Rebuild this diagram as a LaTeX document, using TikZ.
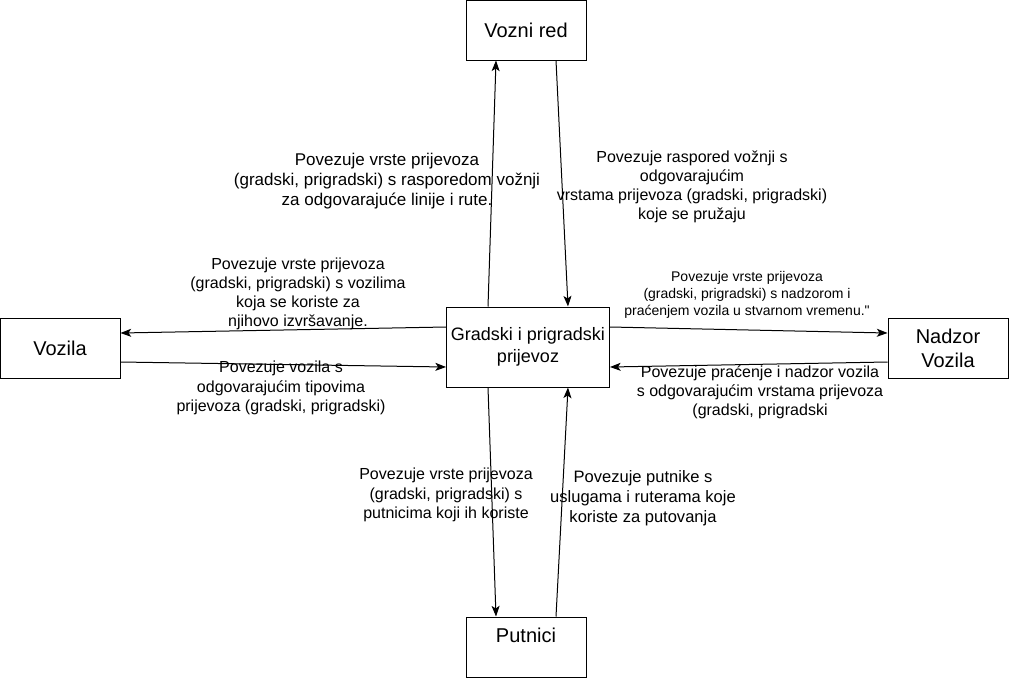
\documentclass[tikz,border=0pt]{standalone}
\usepackage{fontspec}
\setmainfont{Liberation Sans}
\usetikzlibrary{arrows.meta}

\begin{document}
\begin{tikzpicture}[x=0.75pt,y=-0.75pt,line width=0.75pt,>={Stealth[length=8pt,width=6pt,inset=2pt]}]
      \useasboundingbox (0,0) rectangle (1009,678);
      \begin{scope}[every node/.style={rectangle,draw,minimum width=90pt,minimum height=45pt,align=center,font=\fontsize{15}{18}\selectfont}]
        \node (red) at (526,30) {Vozni red};
        \node[minimum width=120pt,minimum height=60pt,font=\fontsize{13.5}{16}\selectfont] (prijevoz) at (528,347) {Gradski i prigradski\\prijevoz};
        \node (vozila) at (60,348) {Vozila};
        \node (nadzor) at (948,348) {Nadzor\\Vozila};
        \node (putnici) at (526,647) {\raisebox{18pt}{Putnici}};
      \end{scope}
      \begin{scope}[every node/.style={align=center,font=\fontsize{12}{14.4}\selectfont}]
        \node[font=\fontsize{12.75}{15}\selectfont] (opis1) at (387,181) {Povezuje vrste prijevoza\\(gradski, prigradski) s rasporedom vožnji\\za odgovarajuće linije i rute.};
        \node (opis2) at (692,187) {Povezuje raspored vožnji s\\odgovarajućim\\vrstama prijevoza (gradski, prigradski)\\koje se pružaju};
        \node (opis3) at (298,294) {Povezuje vrste prijevoza\\(gradski, prigradski) s vozilima\\koja se koriste za\\njihovo izvršavanje.};
        \node (opis4) at (281,388) {Povezuje vozila s\\odgovarajućim tipovima\\prijevoza (gradski, prigradski)};
        \node[font=\fontsize{10.5}{12.8}\selectfont] (opis5) at (747,295) {Povezuje vrste prijevoza\\(gradski, prigradski) s nadzorom i\\praćenjem vozila u stvarnom vremenu.\textquotedbl};
        \node (opis6) at (760,392) {Povezuje praćenje i nadzor vozila\\s odgovarajućim vrstama prijevoza\\(gradski, prigradski};
        \node (opis7) at (446,495) {Povezuje vrste prijevoza\\(gradski, prigradski) s\\putnicima koji ih koriste};
        \node[font=\fontsize{12.4}{14.8}\selectfont] (opis8) at (643,498) {Povezuje putnike s\\uslugama i ruterama koje\\koriste za putovanja};
      \end{scope}
      \begin{scope}[every edge/.style={draw,->}]
        \path ([xshift=-30pt]prijevoz.north) edge ([xshift=-22.5pt]red.south);
        \path ([xshift=22.5pt]red.south) edge ([xshift=30pt]prijevoz.north);
        \path ([yshift=15pt]prijevoz.west) edge ([yshift=11.25pt]vozila.east);
        \path ([yshift=-10.5pt]vozila.east) edge ([yshift=-15pt]prijevoz.west);
        \path ([yshift=15pt]prijevoz.east) edge ([yshift=11.25pt]nadzor.west);
        \path ([yshift=-10.5pt]nadzor.west) edge ([yshift=-15pt]prijevoz.east);
        \path ([xshift=-30pt]prijevoz.south) edge ([xshift=-22.5pt]putnici.north);
        \path ([xshift=22.5pt]putnici.north) edge ([xshift=30pt]prijevoz.south);
      \end{scope}
    \end{tikzpicture}
\end{document}
